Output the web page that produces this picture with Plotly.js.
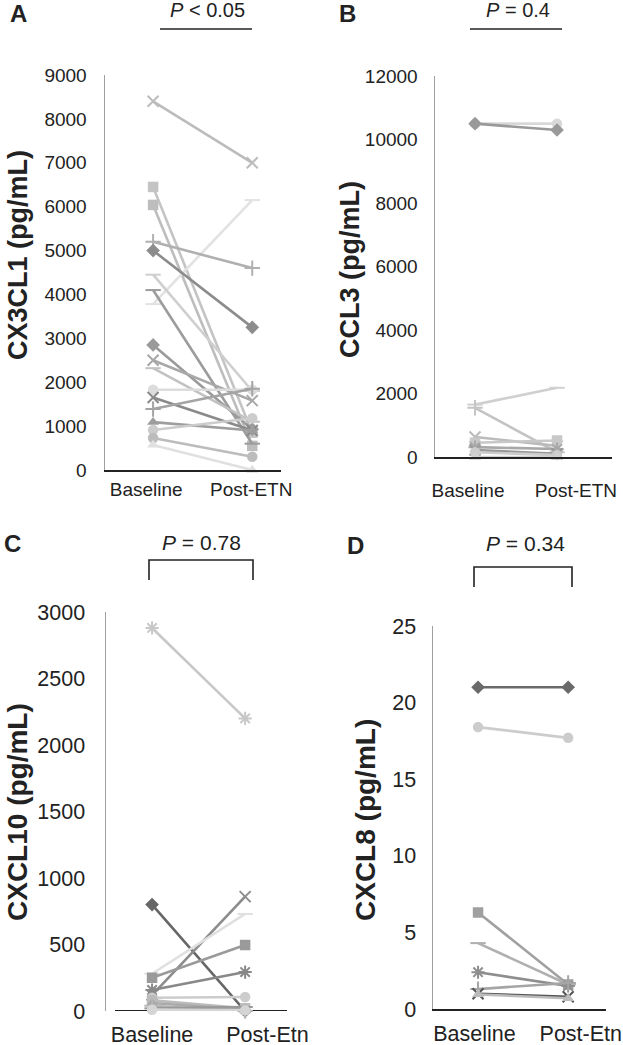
<!DOCTYPE html>
<html>
<head>
<meta charset="utf-8">
<script src="https://cdn.plot.ly/plotly-3.0.1.min.js"></script>
<style>html,body{margin:0;padding:0;background:#fff;}#chart{width:623px;height:1045px;}</style>
</head>
<body>
<div id="chart"></div>
<script>
// ---------- DATA ----------
const catsAB = ['Baseline', 'Post-ETN'];
const catsCD = ['Baseline', 'Post-Etn'];

const cx3cl1Baseline = [8400, 6450, 6040, 3780, 5200, 5000, 4450, 4100, 2850, 2500, 2320, 1830, 1650, 1390, 1090, 910, 730, 570];
const cx3cl1Post     = [7000, 850, 550, 6150, 4600, 3250, 1800, 600, 930, 1580, 1100, 1830, 900, 1850, 900, 1180, 300, 0];

const ccl3Baseline = [10500, 10500, 1650, 1550, 630, 450, 310, 220, 150, 0];
const ccl3Post     = [10500, 10300, 2180, 150, 350, 520, 250, 100, 60, 0];

const cxcl10Baseline = [2880, 800, 120, 280, 250, 158, 100, 80, 60, 40, 20, 10];
const cxcl10Post     = [2200, 0, 860, 730, 496, 293, 105, 20, 10, 0, 30, 5];

const cxcl8Baseline = [21.0, 18.4, 6.3, 4.3, 2.4, 1.3, 1.0, 0.95];
const cxcl8Post     = [21.0, 17.7, 1.6, 1.6, 1.5, 1.7, 0.8, 0.7];

const pLabels = ['<i>P</i> &lt; 0.05', '<i>P</i> = 0.4', '<i>P</i> = 0.78', '<i>P</i> = 0.34'];
const yTitles = ['CX3CL1 (pg/mL)', 'CCL3 (pg/mL)', 'CXCL10 (pg/mL)', 'CXCL8 (pg/mL)'];
const panelLetters = ['A', 'B', 'C', 'D'];

// ---------- STYLES ----------
const stylesA = [
  ['x-thin-open', '#bcbcbc'], ['square', '#c4c4c4'], ['square', '#bdbdbd'], ['line-ew-open', '#e2e2e2'],
  ['cross-thin-open', '#b0b0b0'], ['diamond', '#8c8c8c'], ['line-ew-open', '#cfcfcf'], ['line-ew-open', '#9c9c9c'],
  ['diamond', '#9a9a9a'], ['x-thin-open', '#a8a8a8'], ['line-ew-open', '#c2c2c2'], ['circle', '#dcdcdc'],
  ['x-thin-open', '#8a8a8a'], ['cross-thin-open', '#a4a4a4'], ['triangle-up', '#9e9e9e'], ['circle', '#cccccc'],
  ['circle', '#bcbcbc'], ['triangle-up', '#e0e0e0']
];
const stylesB = [
  ['circle', '#d8d8d8'], ['diamond', '#999999'], ['line-ew-open', '#d0d0d0'], ['cross-thin-open', '#c4c4c4'],
  ['x-thin-open', '#bbbbbb'], ['square', '#c8c8c8'], ['asterisk-open', '#a8a8a8'], ['x-thin-open', '#999999'],
  ['circle', '#cccccc'], ['triangle-up', '#d0d0d0']
];
const stylesC = [
  ['asterisk-open', '#c8c8c8'], ['diamond', '#666666'], ['x-thin-open', '#8c8c8c'], ['line-ew-open', '#e0e0e0'],
  ['square', '#9a9a9a'], ['asterisk-open', '#888888'], ['circle', '#cccccc'], ['square', '#bbbbbb'],
  ['triangle-up', '#aaaaaa'], ['cross-thin-open', '#b5b5b5'], ['line-ew-open', '#999999'], ['circle', '#d5d5d5']
];
const stylesD = [
  ['diamond', '#6a6a6a'], ['circle', '#cccccc'], ['square', '#a0a0a0'], ['line-ew-open', '#b0b0b0'],
  ['asterisk-open', '#8e8e8e'], ['cross-thin-open', '#a5a5a5'], ['x-thin-open', '#555555'], ['triangle-up', '#bbbbbb']
];

const FONT = 'Liberation Sans, Arial, sans-serif';
const traces = [];
function addPanel(idx, base, post, styles) {
  const ax = idx === 0 ? '' : String(idx + 1);
  for (let i = 0; i < base.length; i++) {
    const [sym, col] = styles[i];
    const open = sym.indexOf('-open') >= 0;
    traces.push({
      type: 'scatter', mode: 'lines+markers',
      x: [0, 1], y: [base[i], post[i]],
      xaxis: 'x' + ax, yaxis: 'y' + ax,
      line: {color: col, width: 2.6},
      marker: {symbol: sym, size: open ? 11 : 10.5, color: col,
               line: {color: col, width: open ? 2 : 0}},
      cliponaxis: false, showlegend: false, hoverinfo: 'skip'
    });
  }
}
addPanel(0, cx3cl1Baseline, cx3cl1Post, stylesA);
addPanel(1, ccl3Baseline, ccl3Post, stylesB);
addPanel(2, cxcl10Baseline, cxcl10Post, stylesC);
addPanel(3, cxcl8Baseline, cxcl8Post, stylesD);

const W = 623, H = 1045;
const px = v => v / W, py = v => 1 - v / H;

function xax(anchor, domL, domR, range, tv, cats, size, standoff, showline) {
  return {anchor: anchor, domain: [px(domL), px(domR)], range: range, tickvals: tv, ticktext: cats,
    showgrid: false, zeroline: false, showline: showline, linecolor: '#222', linewidth: 2,
    ticks: '', ticklabelstandoff: standoff, tickfont: {family: FONT, size: size, color: '#222'}, fixedrange: true};
}
function yax(anchor, top, bot, range, dtick, size, standoff) {
  return {anchor: anchor, domain: [py(bot), py(top)], range: range, dtick: dtick, tick0: 0, tickformat: 'd',
    showgrid: false, zeroline: false, showline: true, linecolor: '#a0a0a0', linewidth: 1.5,
    ticks: '', ticklabelstandoff: standoff, tickfont: {family: FONT, size: size, color: '#222'}, fixedrange: true};
}

const layout = {
  width: W, height: H, margin: {l: 0, r: 0, t: 0, b: 0},
  paper_bgcolor: '#fff', plot_bgcolor: 'rgba(0,0,0,0)', showlegend: false,
  xaxis:  xax('y', 105, 281, [-0.485, 1.29], [-0.07, 0.99], catsAB, 19, 1, true),
  yaxis:  yax('x', 75, 470, [0, 9000], 1000, 19, 13),
  xaxis2: xax('y2', 435, 612, [-0.488, 1.67], [-0.085, 1.23], catsAB, 19, 15, true),
  yaxis2: yax('x2', 76, 457, [0, 12000], 2000, 19, 12),
  xaxis3: xax('y3', 106, 287, [-0.495, 1.45], [0, 1.24], catsCD, 21.5, 8, false),
  yaxis3: yax('x3', 612, 1011, [0, 3000], 500, 21.5, 15),
  xaxis4: xax('y4', 433, 606, [-0.5, 1.42], [-0.04, 1.14], catsCD, 21.5, 4, true),
  yaxis4: yax('x4', 626, 1009, [0, 25], 5, 21.5, 11),
  annotations: [],
  shapes: []
};

// panel letters
[[18, 14], [348, 14], [12, 543], [355, 545]].forEach((p, i) => {
  layout.annotations.push({xref: 'paper', yref: 'paper', x: px(p[0]), y: py(p[1]), xanchor: 'center', yanchor: 'middle',
    text: '<b>' + panelLetters[i] + '</b>', showarrow: false, font: {family: FONT, size: 24, color: '#222'}});
});
// p-values
[[207, 10], [518, 10], [201, 542], [525, 543]].forEach((p, i) => {
  layout.annotations.push({xref: 'paper', yref: 'paper', x: px(p[0]), y: py(p[1]), xanchor: 'center', yanchor: 'middle',
    text: pLabels[i], showarrow: false, font: {family: FONT, size: i < 2 ? 20 : 21, color: '#222'}});
});
// y titles
[[18, 255], [350, 270], [17, 812], [365, 820]].forEach((p, i) => {
  layout.annotations.push({xref: 'paper', yref: 'paper', x: px(p[0]), y: py(p[1]), xanchor: 'center', yanchor: 'middle',
    text: '<b>' + yTitles[i] + '</b>', textangle: -90, showarrow: false, font: {family: FONT, size: i < 2 ? 27 : 28, color: '#222'}});
});
// significance lines / brackets
const lineStyle = {color: '#222', width: 1.6};
layout.shapes.push({type: 'line', xref: 'paper', yref: 'paper', x0: px(160), x1: px(252), y0: py(29), y1: py(29), line: lineStyle});
layout.shapes.push({type: 'line', xref: 'paper', yref: 'paper', x0: px(470), x1: px(562), y0: py(29), y1: py(29), line: lineStyle});
layout.shapes.push({type: 'path', xref: 'paper', yref: 'paper',
  path: `M ${px(149)} ${py(580)} L ${px(149)} ${py(560)} L ${px(253)} ${py(560)} L ${px(253)} ${py(580)}`, line: lineStyle});
layout.shapes.push({type: 'path', xref: 'paper', yref: 'paper',
  path: `M ${px(474)} ${py(587)} L ${px(474)} ${py(567)} L ${px(572)} ${py(567)} L ${px(572)} ${py(587)}`, line: lineStyle});
// panel C x-axis line (starts slightly right of y axis)
layout.shapes.push({type: 'line', xref: 'paper', yref: 'y3', x0: px(115), x1: px(287), y0: 0, y1: 0,
  line: {color: '#222', width: 2}, layer: 'below'});

Plotly.newPlot('chart', traces, layout, {staticPlot: true});
</script>
</body>
</html>
